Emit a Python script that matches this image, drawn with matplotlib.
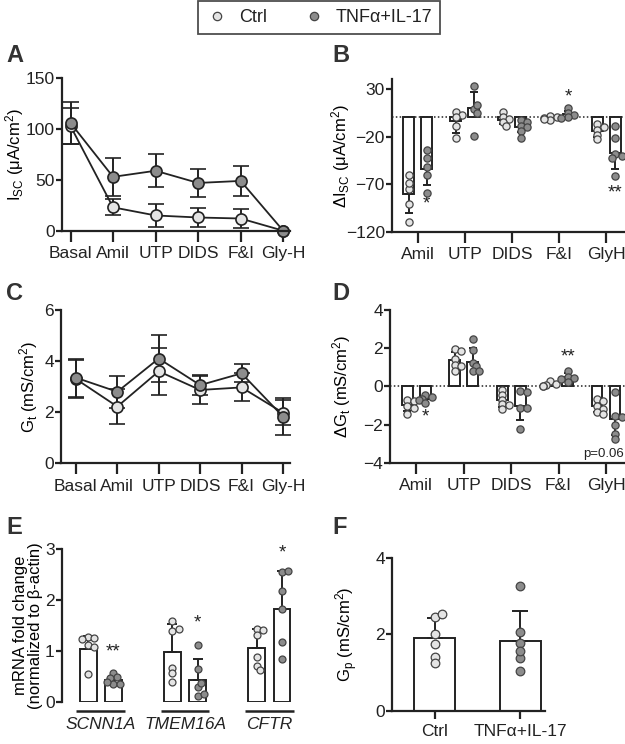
import numpy as np
import matplotlib.pyplot as plt
from matplotlib.lines import Line2D

plt.rcParams['font.family'] = ['Liberation Sans', 'DejaVu Sans']
plt.rcParams['mathtext.default'] = 'regular'
plt.rcParams['font.size'] = 12
plt.rcParams['text.color'] = '#222222'
plt.rcParams['axes.edgecolor'] = '#222222'
plt.rcParams['xtick.color'] = '#222222'
plt.rcParams['ytick.color'] = '#222222'

# ---- data ----
steps = ['Basal', 'Amil', 'UTP', 'DIDS', 'F&I', 'Gly-H']
isc_ctrl = [103, 23, 15, 13, 12, 0]
isc_ctrl_sd = [18, 8, 11, 9, 9, 0]
isc_tnf = [106, 53, 59, 47, 49, 0]
isc_tnf_sd = [21, 19, 16, 14, 15, 0]

gt_ctrl = [3.3, 2.22, 3.6, 2.87, 2.97, 1.98]
gt_ctrl_sd = [0.75, 0.69, 0.93, 0.55, 0.55, 0.5]
gt_tnf = [3.35, 2.8, 4.1, 3.06, 3.52, 1.83]
gt_tnf_sd = [0.75, 0.63, 0.92, 0.4, 0.35, 0.72]

drugs = ['Amil', 'UTP', 'DIDS', 'F&I', 'GlyH']
disc_ctrl = [-80, -4, -3, -1, -14]
disc_ctrl_sd = [20, 12, 4, 2, 6]
disc_tnf = [-54, 10, -10, 3.5, -37]
disc_tnf_sd = [17, 17, 5, 3.5, 17]
disc_ctrl_pts = [[-60, -75, -69, -91, -109], [6, 3, 0, -8.5, -22], [6, 1, -2, -5, -9],
                 [2, 0, -1, -3, -2], [-7, -10, -13, -18, -23]]
disc_tnf_pts = [[-34, -42, -52, -60, -79], [33, 9, 13, 5, -19], [-3, -5, -8.5, -10, -14, -22],
                [10, 5, 2.6, 0, -0.5], [-8.5, -22, -38, -40.5, -42, -61]]
disc_sig = ['*', '', '', '*', '**']
disc_sig_y = [-91, 0, 0, 21, -79]

dgt_ctrl = [-1.0, 1.37, -0.74, 0.1, -1.05]
dgt_ctrl_sd = [0.3, 0.45, 0.35, 0.1, 0.3]
dgt_tnf = [-0.65, 1.3, -1.04, 0.48, -1.7]
dgt_tnf_sd = [0.15, 0.7, 0.74, 0.2, 0.87]
dgt_ctrl_pts = [[-0.69, -0.78, -1.04, -1.12, -1.47], [1.96, 1.83, 1.43, 1.14, 1.09, 0.79],
                [-0.17, -0.43, -0.69, -0.95, -1.0, -1.21], [0.27, 0.1, 0.05, 0.0, 0.02],
                [-0.65, -0.78, -1.04, -1.21, -1.37, -1.47]]
dgt_tnf_pts = [[-0.45, -0.55, -0.65, -0.7, -0.85], [2.48, 1.92, 1.23, 1.05, 0.82, 0.79],
               [-0.25, -0.3, -1.12, -1.15, -2.25], [0.78, 0.5, 0.45, 0.25, 0.4],
               [-0.3, -1.56, -1.59, -2.0, -2.51, -2.77]]
dgt_sig = ['*', '', '', '**', '']
dgt_sig_y = [-1.6, 0, 0, 1.55, 0]

genes = ['SCNN1A', 'TMEM16A', 'CFTR']
mrna_ctrl = [1.03, 0.98, 1.05]
mrna_ctrl_sd = [0.26, 0.54, 0.37]
mrna_tnf = [0.43, 0.43, 1.83]
mrna_tnf_sd = [0.08, 0.40, 0.74]
mrna_ctrl_pts = [[1.27, 1.25, 1.24, 1.12, 1.08, 0.55], [1.59, 1.38, 1.42, 0.66, 0.56, 0.39],
                 [1.42, 1.41, 1.31, 0.87, 0.70, 0.62]]
mrna_tnf_pts = [[0.57, 0.49, 0.46, 0.35, 0.34, 0.39], [1.11, 0.64, 0.29, 0.37, 0.11, 0.15],
                [2.55, 2.57, 2.18, 1.83, 1.18, 0.84]]
mrna_sig = ['**', '*', '*']
mrna_sig_y = [0.98, 1.55, 2.92]

groups = ['Ctrl', 'TNFα+IL-17']
gp_mean = [1.9, 1.83]
gp_sd = [0.52, 0.79]
gp_pts = [[2.45, 2.52, 2.0, 1.75, 1.42, 1.26], [3.25, 2.07, 1.77, 1.38, 1.56, 1.05]]

# ---- styles ----
dark = '#222222'
c_ctrl = '#e4e4e4'
c_tnf = '#8c8c8c'
lw = 1.4
tick_fs = 12.5


def style(ax, xlen=8):
    for s in ['top', 'right']:
        ax.spines[s].set_visible(False)
    for s in ['left', 'bottom']:
        ax.spines[s].set_linewidth(1.6)
    ax.tick_params(axis='x', length=xlen, width=1.6, pad=3, labelsize=tick_fs)
    ax.tick_params(axis='y', length=4, width=1.6, pad=1, labelsize=tick_fs)


def swarm(ax, xc, vals, ms, fc):
    # spread points sideways so they overlap only partly
    tr = ax.transData
    pts = tr.transform([(xc, v) for v in vals])
    d = ms * 100 / 72
    placed = []
    xs = []
    for px, py in pts:
        for k in [0, 1, -1, 2, -2]:
            ox = k * d * 0.45
            if all((ox - qx) ** 2 + (py - qy) ** 2 >= (d * 0.65) ** 2 for qx, qy in placed):
                break
        placed.append((ox, py))
        xs.append(px + ox)
    back = tr.inverted().transform(np.column_stack([xs, pts[:, 1]]))
    ax.plot(back[:, 0], back[:, 1], 'o', ms=ms, mfc=fc, mec='#444444', mew=0.9,
            ls='none', zorder=4, clip_on=False)


def one_sided(vals, sds):
    lo = [s if v < 0 else 0 for v, s in zip(vals, sds)]
    hi = [s if v >= 0 else 0 for v, s in zip(vals, sds)]
    return [lo, hi]


def panel_letter(x, y, s):
    fig.text(x / 625, 1 - y / 744, s, fontsize=17, fontweight='bold', color='#333333',
             ha='left', va='center')


fig = plt.figure(figsize=(6.25, 7.44), dpi=100)

# ---- A: Isc time course ----
axA = fig.add_axes([62 / 625, 1 - 230.7 / 744, 228 / 625, 152.4 / 744])
x = np.arange(len(steps))
for m, sd, fc in [(isc_ctrl, isc_ctrl_sd, c_ctrl), (isc_tnf, isc_tnf_sd, c_tnf)]:
    axA.errorbar(x, m, yerr=sd, fmt='-o', color=dark, lw=1.3, ms=8, mfc=fc, mec=dark,
                 mew=1.2, capsize=5.5, capthick=1.4, elinewidth=1.4, clip_on=False)
axA.set_xlim(-0.2, 5.16)
axA.set_ylim(0, 150)
axA.set_yticks([0, 50, 100, 150])
axA.set_xticks(x)
axA.set_xticklabels(steps)
axA.set_ylabel(r'I$_{SC}$ (μA/cm$^2$)', fontsize=12)
axA.yaxis.set_label_coords(-0.16, 0.5)
style(axA)

# ---- C: Gt time course ----
axC = fig.add_axes([61 / 625, 1 - 463.3 / 744, 229 / 625, 153.3 / 744])
for m, sd, fc in [(gt_ctrl, gt_ctrl_sd, c_ctrl), (gt_tnf, gt_tnf_sd, c_tnf)]:
    axC.errorbar(x, m, yerr=sd, fmt='-o', color=dark, lw=1.3, ms=8, mfc=fc, mec=dark,
                 mew=1.2, capsize=5.5, capthick=1.4, elinewidth=1.4, clip_on=False)
axC.set_xlim(-0.36, 5.17)
axC.set_ylim(0, 6)
axC.set_yticks([0, 2, 4, 6])
axC.set_xticks(x)
axC.set_xticklabels(steps)
axC.set_ylabel(r'G$_t$ (mS/cm$^2$)', fontsize=12)
axC.yaxis.set_label_coords(-0.09, 0.5)
style(axC)


# ---- B and D: delta bar charts ----
def delta_panel(rect, ylim, yticks, c_m, c_sd, t_m, t_sd, c_pts, t_pts, sig, sig_y, ylabel,
                labx):
    ax = fig.add_axes(rect)
    xd = np.arange(len(drugs))
    ax.set_xlim(-0.55, 4.4)
    ax.set_ylim(*ylim)
    ax.axhline(0, color=dark, lw=1.1, ls=(0, (1, 1.5)), zorder=1)
    for off, m, sd, pts, fc in [(-0.19, c_m, c_sd, c_pts, c_ctrl), (0.19, t_m, t_sd, t_pts, c_tnf)]:
        ax.bar(xd + off, m, width=0.23, color='white', edgecolor=dark, lw=lw, zorder=2)
        ax.errorbar(xd + off, m, yerr=one_sided(m, sd), fmt='none', ecolor=dark,
                    elinewidth=lw, capsize=2.6, capthick=lw, zorder=3)
        for xi, p in zip(xd + off, pts):
            swarm(ax, xi, p, 5.2, fc)
    for xi, s, yy in zip(xd + 0.19, sig, sig_y):
        if s:
            ax.text(xi, yy, s, ha='center', va='center', fontsize=13.5)
    ax.set_yticks(yticks)
    ax.set_xticks(xd)
    ax.set_xticklabels(drugs)
    ax.set_ylabel(ylabel, fontsize=12)
    ax.yaxis.set_label_coords(labx, 0.5)
    style(ax)
    return ax


axB = delta_panel([391.7 / 625, 1 - 232 / 744, 233.3 / 625, 152.7 / 744], (-120, 40),
                  [30, -20, -70, -120], disc_ctrl, disc_ctrl_sd, disc_tnf, disc_tnf_sd,
                  disc_ctrl_pts, disc_tnf_pts, disc_sig, disc_sig_y,
                  r'ΔI$_{SC}$ (μA/cm$^2$)', -0.17)
axD = delta_panel([390 / 625, 1 - 462.7 / 744, 235 / 625, 152.7 / 744], (-4, 4),
                  [4, 2, 0, -2, -4], dgt_ctrl, dgt_ctrl_sd, dgt_tnf, dgt_tnf_sd,
                  dgt_ctrl_pts, dgt_tnf_pts, dgt_sig, dgt_sig_y,
                  r'ΔG$_t$ (mS/cm$^2$)', -0.157)
axD.text(0.995, 0.015, 'p=0.06', transform=axD.transAxes, ha='right', va='bottom', fontsize=9.5)

# ---- E: mRNA ----
axE = fig.add_axes([61.7 / 625, 1 - 701.7 / 744, 238.3 / 625, 152.7 / 744])
xg = np.arange(len(genes))
axE.set_xlim(-0.464, 2.364)
axE.set_ylim(0, 3)
for off, m, sd, pts, fc in [(-0.15, mrna_ctrl, mrna_ctrl_sd, mrna_ctrl_pts, c_ctrl),
                            (0.15, mrna_tnf, mrna_tnf_sd, mrna_tnf_pts, c_tnf)]:
    axE.bar(xg + off, m, width=0.2, color='white', edgecolor=dark, lw=lw, zorder=2)
    axE.errorbar(xg + off, m, yerr=[np.zeros(len(sd)), sd], fmt='none', ecolor=dark,
                 elinewidth=lw, capsize=3.6, capthick=lw, zorder=3)
    for xi, p in zip(xg + off, pts):
        swarm(axE, xi, p, 5, fc)
for xi, s, yy in zip(xg + 0.15, mrna_sig, mrna_sig_y):
    axE.text(xi, yy, s, ha='center', va='center', fontsize=13.5)
for xi in xg:
    axE.plot([xi - 0.29, xi + 0.29], [-0.18, -0.18], color=dark, lw=1.8, clip_on=False,
             solid_capstyle='butt')
axE.spines['bottom'].set_visible(False)
style(axE)
axE.set_xticks(xg)
axE.set_xticklabels(genes, style='italic')
axE.tick_params(axis='x', length=0, pad=11)
axE.set_yticks([0, 1, 2, 3])
axE.set_ylabel('mRNA fold change\n(normalized to β-actin)', fontsize=12, linespacing=1.0)
axE.yaxis.set_label_coords(-0.078, 0.5)

# ---- F: Gp ----
axF = fig.add_axes([391.7 / 625, 1 - 711 / 744, 153.3 / 625, 153.3 / 744])
xf = np.arange(len(groups))
axF.set_xlim(-0.5, 1.29)
axF.set_ylim(0, 4)
axF.bar(xf, gp_mean, width=0.475, color='white', edgecolor=dark, lw=lw, zorder=2)
axF.errorbar(xf, gp_mean, yerr=[np.zeros(2), gp_sd], fmt='none', ecolor=dark,
             elinewidth=lw, capsize=5.5, capthick=lw, zorder=3)
for xi, p, fc in zip(xf, gp_pts, [c_ctrl, c_tnf]):
    swarm(axF, xi, p, 6.2, fc)
axF.set_xticks(xf)
axF.set_xticklabels(groups)
axF.set_yticks([0, 2, 4])
axF.set_ylabel(r'G$_p$ (mS/cm$^2$)', fontsize=12)
axF.yaxis.set_label_coords(-0.207, 0.5)
style(axF, xlen=6)

# ---- letters & legend ----
for lx, ly, s in [(6, 55, 'A'), (332, 55, 'B'), (6, 293, 'C'), (332, 293, 'D'),
                  (6, 527, 'E'), (332, 527, 'F')]:
    panel_letter(lx, ly, s)

handles = [Line2D([], [], marker='o', ls='none', ms=6, mfc=c_ctrl, mec='#444444', mew=0.9),
           Line2D([], [], marker='o', ls='none', ms=6, mfc=c_tnf, mec='#444444', mew=0.9)]
leg = fig.legend(handles, groups, loc='upper center', bbox_to_anchor=(319 / 625, 1 - 1 / 744),
                 ncol=2, frameon=True, fancybox=False, fontsize=13, handletextpad=0.6,
                 columnspacing=2.0, borderpad=0.45, handlelength=1.2, borderaxespad=0)
leg.get_frame().set_edgecolor(dark)
leg.get_frame().set_linewidth(1.3)

fig.savefig('out.png', dpi=100)
